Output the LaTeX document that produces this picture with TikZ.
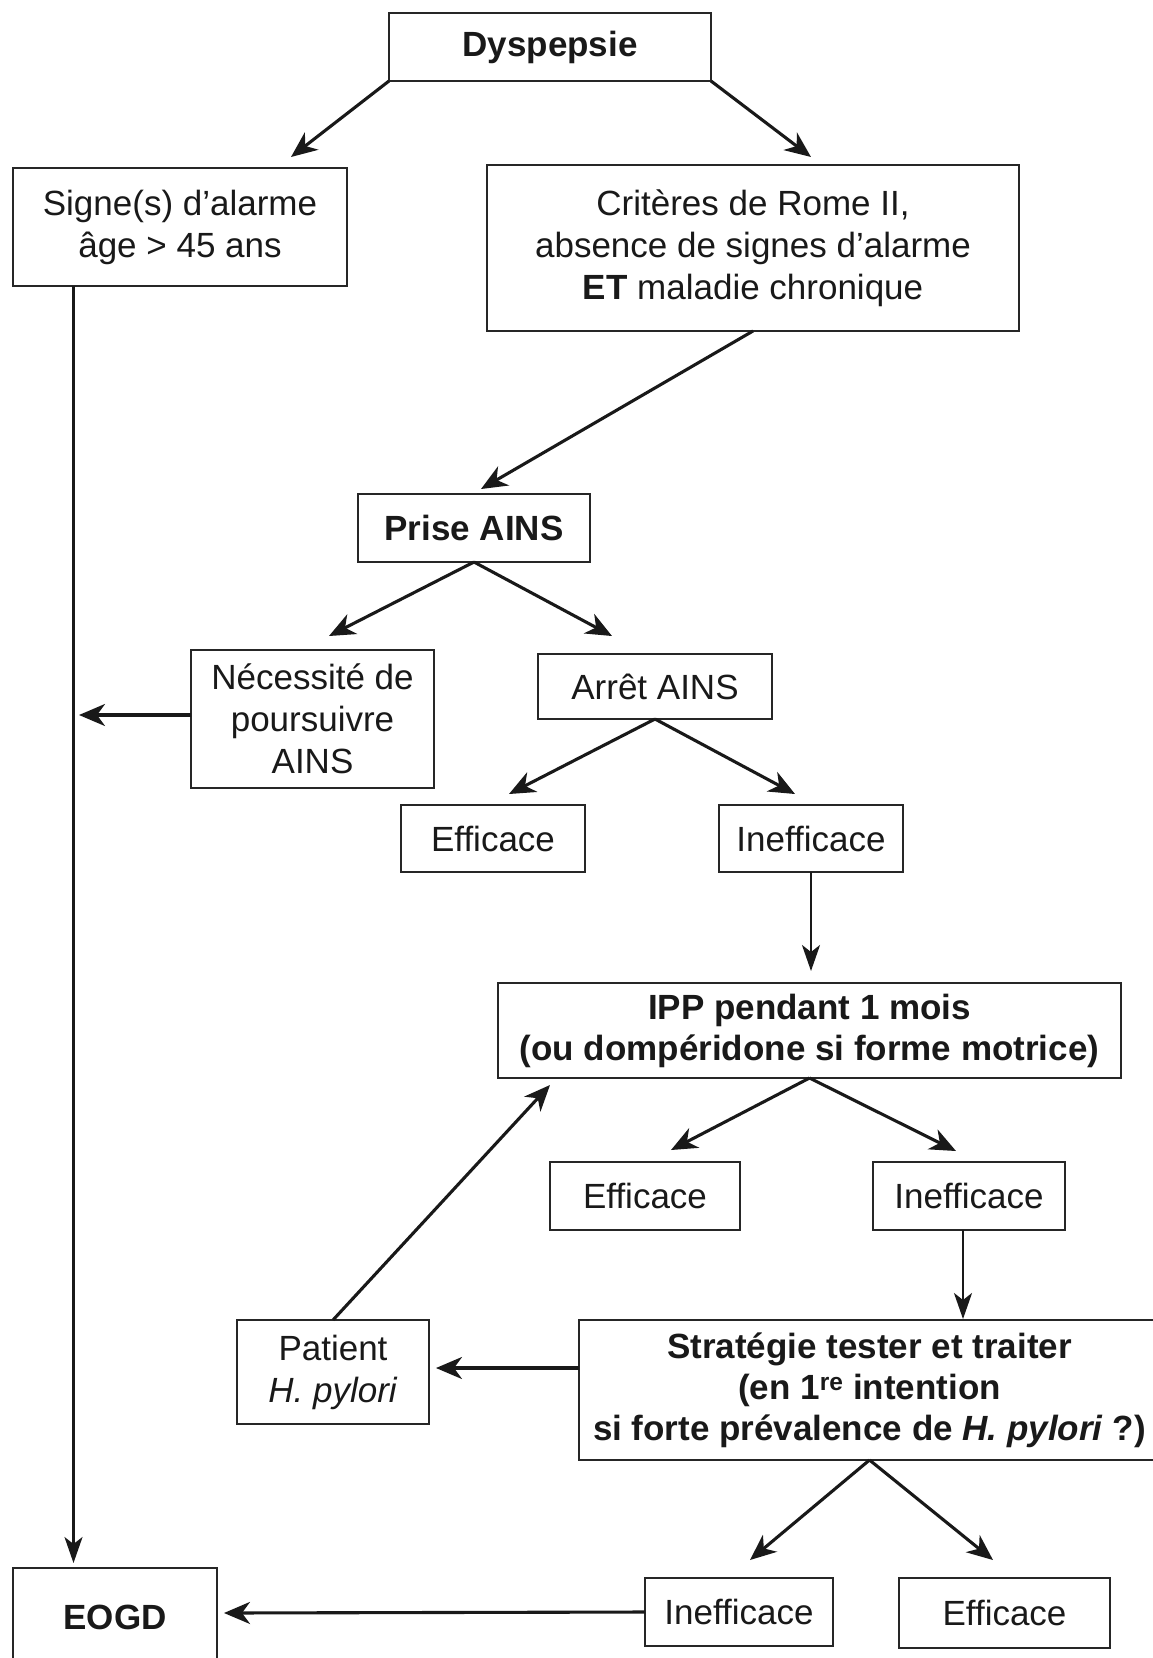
\documentclass[tikz,border=0pt]{standalone}
\usepackage{fontspec}
\setmainfont{Liberation Sans}
\usetikzlibrary{arrows.meta,calc}
\tikzset{
  box/.style={draw=black!85, line width=2.4pt, inner sep=0pt, outer sep=0pt, align=center,
    font=\fontsize{35}{42}\selectfont, text=black!90},
  bbox/.style={box, font=\fontsize{35}{41}\selectfont\bfseries},
  arr/.style={line width=3.1pt, draw=black!90, -{Stealth[length=26pt,width=22pt,inset=8pt]}},
  varr/.style={line width=2.4pt, draw=black!90, -{Stealth[length=26pt,width=18pt,inset=7pt]}},
}
\begin{document}
\begin{tikzpicture}[x=1pt,y=-1pt]
\useasboundingbox[fill=white] (0,0) rectangle (1153,1658);
\clip (0,0) rectangle (1153,1658);
% nodes
\node[bbox, minimum width=322pt, minimum height=68pt] (dysp) at (550,47) {Dyspepsie};
\node[box, minimum width=334pt, minimum height=118pt] (signe) at (180,227) {Signe(s) d’alarme\\âge > 45 ans};
\node[box, minimum width=532pt, minimum height=166pt] (crit) at (753,248) {Critères de Rome II,\\absence de signes d’alarme\\\textbf{ET} maladie chronique};
\node[bbox, minimum width=232pt, minimum height=68pt] (prise) at (474,528) {Prise AINS};
\node[box, minimum width=243pt, minimum height=138pt] (necess) at (312.5,719) {Nécessité de\\poursuivre\\AINS};
\node[box, minimum width=234pt, minimum height=65pt] (arret) at (655,686.5) {Arrêt AINS};
\node[box, minimum width=184pt, minimum height=67pt] (eff1) at (493,838.5) {Efficace};
\node[box, minimum width=184pt, minimum height=67pt] (ineff1) at (811,838.5) {Inefficace};
\node[bbox, minimum width=623pt, minimum height=95pt] (ipp) at (809.5,1030.5) {IPP pendant 1 mois\\(ou dompéridone si forme motrice)};
\node[box, minimum width=190pt, minimum height=68pt] (eff2) at (645,1196) {Efficace};
\node[box, minimum width=192pt, minimum height=68pt] (ineff2) at (969,1196) {Inefficace};
\node[box, minimum width=192pt, minimum height=104pt] (patient) at (333,1372) {Patient\\\textit{H. pylori}};
\node[bbox, minimum width=581pt, minimum height=140pt] (strat) at (869.5,1390) {Stratégie tester et traiter\\(en 1\textsuperscript{re} intention\\si forte prévalence de \textit{H. pylori} ?)};
\node[bbox, minimum width=204pt, minimum height=98pt] (eogd) at (115,1617) {EOGD};
\node[box, minimum width=188pt, minimum height=68pt] (ineff3) at (739,1612) {Inefficace};
\node[box, minimum width=211pt, minimum height=70pt] (eff3) at (1004.5,1613) {Efficace};
% arrow tips
\coordinate (t1) at (291,157);
\coordinate (t2) at (811,157);
\coordinate (t3) at (481,489);
\coordinate (t4) at (73.5,1563);
\coordinate (t5a) at (329,636);
\coordinate (t5b) at (612,636);
\coordinate (t6) at (79,715);
\coordinate (t7a) at (509,794);
\coordinate (t7b) at (795,794);
\coordinate (t8) at (811,971);
\coordinate (t9a) at (671,1150);
\coordinate (t9b) at (956,1151);
\coordinate (t10) at (963,1319);
\coordinate (t11) at (550,1085);
\coordinate (t12) at (436,1368);
\coordinate (t13a) at (750,1560);
\coordinate (t13b) at (993,1560);
\coordinate (t14) at (224,1613);
% connectors
\draw[arr] (dysp.south west) -- (t1);
\draw[arr] (dysp.south east) -- (t2);
\draw[arr] (crit.south) -- (t3);
\draw[varr] (signe.south -| t4) -- (t4);
\draw[arr] (prise.south) -- (t5a);
\draw[arr] (prise.south) -- (t5b);
\draw[arr] (necess.west |- t6) -- (t6);
\draw[arr] (arret.south) -- (t7a);
\draw[arr] (arret.south) -- (t7b);
\draw[varr] (ineff1.south) -- (t8);
\draw[arr] (ipp.south) -- (t9a);
\draw[arr] (ipp.south) -- (t9b);
\draw[varr] (ineff2.south -| t10) -- (t10);
\draw[arr] (patient.north) -- (t11);
\draw[arr] (strat.west |- t12) -- (t12);
\draw[arr] (strat.south) -- (t13a);
\draw[arr] (strat.south) -- (t13b);
\draw[arr] (ineff3.west) -- (t14);
\end{tikzpicture}
\end{document}
